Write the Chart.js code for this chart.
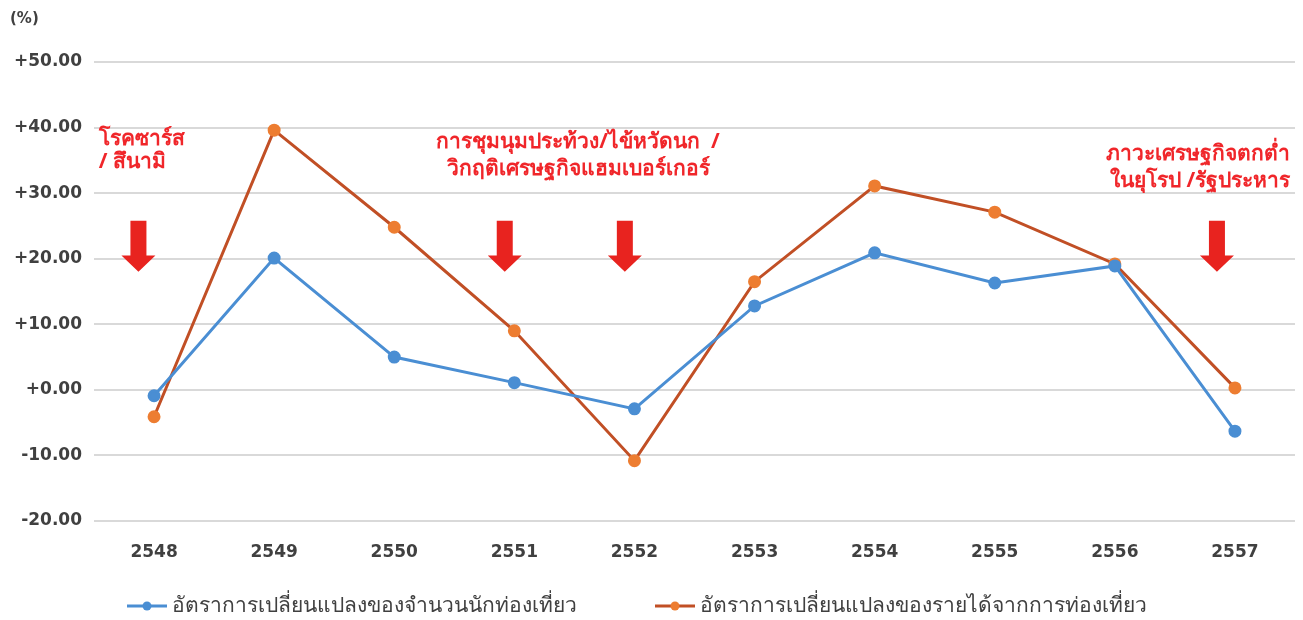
<!DOCTYPE html>
<html>
<head>
<meta charset="utf-8">
<script src="https://cdn.jsdelivr.net/npm/chart.js@4.4.1/dist/chart.umd.min.js"></script>
<style>
  html, body { margin: 0; padding: 0; background: #fff; }
  #wrap { width: 1303px; height: 620px; }
</style>
</head>
<body>
<div id="wrap"><canvas id="myChart" width="1303" height="620"></canvas></div>
<script>
var years = ['2548', '2549', '2550', '2551', '2552', '2553', '2554', '2555', '2556', '2557'];
var touristRate = [-0.9, 20.1, 5.0, 1.1, -2.9, 12.8, 20.9, 16.3, 18.9, -6.3];
var incomeRate = [-4.1, 39.6, 24.8, 9.0, -10.8, 16.5, 31.1, 27.1, 19.2, 0.3];
var seriesNames = ['อัตราการเปลี่ยนแปลงของจำนวนนักท่องเที่ยว', 'อัตราการเปลี่ยนแปลงของรายได้จากการท่องเที่ยว'];
var yTicks = [-20, -10, 0, 10, 20, 30, 40, 50];

// event notes: [category position, value, align, line gap, lines]
var notes = [
  [-0.46, 38.3, 'left', 23, ['โรคซาร์ส', '/ สึนามิ']],
  [3.53, 37.8, 'center', 27, ['การชุมนุมประท้วง/ไข้หวัดนก  /', 'วิกฤติเศรษฐกิจแฮมเบอร์เกอร์']],
  [9.46, 36.0, 'right', 27, ['ภาวะเศรษฐกิจตกต่ำ', 'ในยุโรป /รัฐประหาร']]
];
// arrows: category position
var arrows = [-0.13, 2.92, 3.92, 8.85];

var FONT = '"Noto Sans", "DejaVu Sans", sans-serif';
var NUMFONT = '"DejaVu Sans", sans-serif';

var extras = {
  id: 'extras',
  afterDraw: function(chart) {
    var ctx = chart.ctx;
    var xs = chart.scales.x, ys = chart.scales.y;
    var pos = function(c) {
      return xs.getPixelForValue(0) + c * (xs.getPixelForValue(1) - xs.getPixelForValue(0));
    };
    ctx.save();
    // (%)
    ctx.fillStyle = '#404040';
    ctx.font = 'bold 15px ' + NUMFONT;
    ctx.textAlign = 'left';
    ctx.textBaseline = 'middle';
    ctx.fillText('(%)', 10, 19);

    // arrows
    ctx.fillStyle = '#e8231f';
    arrows.forEach(function(a) {
      var cx = pos(a);
      var top = ys.getPixelForValue(25.8);
      var bot = ys.getPixelForValue(18.0);
      var head = ys.getPixelForValue(20.5);
      ctx.beginPath();
      ctx.moveTo(cx - 8, top);
      ctx.lineTo(cx + 8, top);
      ctx.lineTo(cx + 8, head);
      ctx.lineTo(cx + 17, head);
      ctx.lineTo(cx, bot);
      ctx.lineTo(cx - 17, head);
      ctx.lineTo(cx - 8, head);
      ctx.closePath();
      ctx.fill();
    });

    // notes
    ctx.fillStyle = '#f0262a';
    ctx.font = 'bold 21px ' + FONT;
    notes.forEach(function(n) {
      var x = pos(n[0]);
      var y = ys.getPixelForValue(n[1]);
      ctx.textAlign = n[2];
      n[4].forEach(function(line, i) {
        ctx.fillText(line, x, y + i * n[3]);
      });
    });

    // legend
    var ly = 606;
    var items = [[127, chart.data.datasets[0]], [655, chart.data.datasets[1]]];
    ctx.font = '21px ' + FONT;
    ctx.textAlign = 'left';
    items.forEach(function(it) {
      var x = it[0], ds = it[1];
      ctx.strokeStyle = ds.borderColor;
      ctx.lineWidth = 3;
      ctx.beginPath();
      ctx.moveTo(x, ly);
      ctx.lineTo(x + 40, ly);
      ctx.stroke();
      ctx.fillStyle = ds.pointBackgroundColor;
      ctx.beginPath();
      ctx.arc(x + 20, ly, 4.5, 0, Math.PI * 2);
      ctx.fill();
      ctx.fillStyle = '#404040';
      ctx.fillText(ds.label, x + 45, ly);
    });
    ctx.restore();
  }
};

var ctx = document.getElementById('myChart').getContext('2d');
var chart = new Chart(ctx, {
  type: 'line',
  data: {
    labels: years,
    datasets: [{
      label: seriesNames[0],
      data: touristRate,
      borderColor: '#4a8ed3',
      backgroundColor: '#4a8ed3',
      pointBackgroundColor: '#4a8ed3',
      pointBorderColor: '#4a8ed3',
      borderWidth: 3,
      pointRadius: 5,
      tension: 0
    }, {
      label: seriesNames[1],
      data: incomeRate,
      borderColor: '#c14f25',
      backgroundColor: '#ed7d31',
      pointBackgroundColor: '#ed7d31',
      pointBorderColor: '#ed7d31',
      borderWidth: 3,
      pointRadius: 5,
      tension: 0
    }]
  },
  options: {
    responsive: false,
    animation: false,
    layout: { padding: { top: 62, right: 8, bottom: 60, left: 0 } },
    plugins: { legend: { display: false }, tooltip: { enabled: false } },
    scales: {
      x: {
        offset: true,
        grid: { display: false },
        border: { display: false },
        ticks: { color: '#404040', font: { family: NUMFONT, size: 17, weight: 'bold' }, padding: 13 },
        afterFit: function(s) { s.height = 39; }
      },
      y: {
        min: -20, max: 50,
        afterBuildTicks: function(s) { s.ticks = yTicks.map(function(v) { return { value: v }; }); },
        grid: { color: '#d9d9d9', lineWidth: 2, drawTicks: false },
        border: { display: false },
        ticks: {
          color: '#404040', padding: 12,
          font: { family: NUMFONT, size: 17, weight: 'bold' },
          callback: function(v) { return (v >= 0 ? '+' : '') + v.toFixed(2); }
        },
        afterFit: function(s) { s.width = 94; }
      }
    }
  },
  plugins: [extras]
});
</script>
</body>
</html>
